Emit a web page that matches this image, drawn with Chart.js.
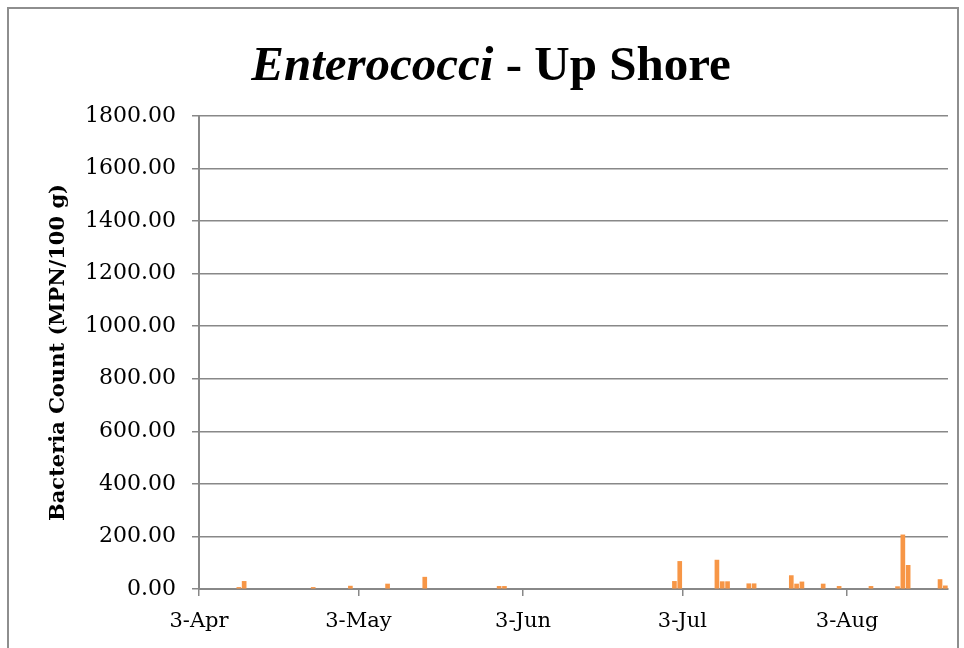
<!DOCTYPE html>
<html>
<head>
<meta charset="utf-8">
<script src="https://cdn.jsdelivr.net/npm/chart.js@4.4.1/dist/chart.umd.min.js"></script>
<style>
    html, body { margin: 0; padding: 0; background: #fff; overflow: hidden; }
    #marco { position: absolute; left: 7px; top: 7px; width: 948px; height: 700px; border: 2px solid #8e8e8e; }
    #grafico { position: absolute; left: 0; top: 0; }
</style>
</head>
<body>
<div id="marco"></div>
<canvas id="grafico" width="964" height="648"></canvas>
<script>
// Datos
const fechas = ['2013-04-10', '2013-04-11', '2013-04-24', '2013-05-01', '2013-05-08', '2013-05-15',
    '2013-05-29', '2013-05-30', '2013-07-01', '2013-07-02', '2013-07-09', '2013-07-10', '2013-07-11',
    '2013-07-15', '2013-07-16', '2013-07-23', '2013-07-24', '2013-07-25', '2013-07-29', '2013-08-01',
    '2013-08-07', '2013-08-12', '2013-08-13', '2013-08-14', '2013-08-20', '2013-08-21'];
const conteos = [6, 29, 6, 11, 19, 45,
    10, 10, 29, 105, 110, 28, 28,
    20, 20, 51, 19, 27, 19, 10,
    10, 9, 206, 90, 36, 12];

const fechaInicio = '2013-04-03';
const fechaFin = '2013-08-22';
const fechasEtiquetas = ['2013-04-03', '2013-05-03', '2013-06-03', '2013-07-03', '2013-08-03'];
const etiquetasX = ['3-Apr', '3-May', '3-Jun', '3-Jul', '3-Aug'];

function dias(fecha) {
    return (Date.parse(fecha) - Date.parse(fechaInicio)) / 86400000;
}

const gris = '#888888';
const naranja = '#f79646';

// Titulo con partes en cursiva y negrita
const tituloPlugin = {
    id: 'tituloMixto',
    afterDraw(chart) {
        const ctx = chart.ctx;
        const parte1 = 'Enterococci';
        const parte2 = ' - Up Shore';
        ctx.save();
        ctx.fillStyle = '#000';
        ctx.textBaseline = 'alphabetic';
        ctx.font = 'italic bold 49px "Liberation Serif"';
        const w1 = ctx.measureText(parte1).width;
        ctx.font = 'bold 49px "Liberation Serif"';
        const w2 = ctx.measureText(parte2).width;
        let x = 491 - (w1 + w2) / 2;
        ctx.font = 'italic bold 49px "Liberation Serif"';
        ctx.fillText(parte1, x, 80);
        ctx.font = 'bold 49px "Liberation Serif"';
        ctx.fillText(parte2, x + w1, 80);
        ctx.restore();
    }
};

const puntos = fechas.map((f, i) => ({ x: dias(f) + 0.5, y: conteos[i] }));

new Chart(document.getElementById('grafico'), {
    type: 'bar',
    data: {
        datasets: [{
            label: 'Enterococci',
            data: puntos,
            backgroundColor: naranja,
            borderWidth: 0,
            barThickness: 4
        }]
    },
    options: {
        responsive: false,
        animation: false,
        layout: { padding: { top: 116, right: 16, bottom: 0, left: 0 } },
        plugins: {
            legend: { display: false },
            title: { display: false },
            tooltip: { enabled: false }
        },
        scales: {
            x: {
                type: 'linear',
                offset: false,
                min: 0,
                max: dias(fechaFin),
                afterBuildTicks: (escala) => {
                    escala.ticks = fechasEtiquetas.map(f => ({ value: dias(f) }));
                },
                afterFit: (escala) => { escala.height = 59; },
                ticks: {
                    autoSkip: false,
                    maxRotation: 0,
                    padding: 13,
                    color: '#000',
                    font: { family: 'DejaVu Serif', size: 21 },
                    callback: (v) => etiquetasX[fechasEtiquetas.findIndex(f => dias(f) === v)]
                },
                grid: { offset: false, drawOnChartArea: false, tickLength: 7, color: gris, lineWidth: 1.5 },
                border: { color: gris, width: 2 }
            },
            y: {
                min: 0,
                max: 1800,
                afterFit: (escala) => { escala.width = 199; },
                ticks: {
                    stepSize: 200,
                    padding: 16,
                    color: '#000',
                    font: { family: 'DejaVu Serif', size: 22 },
                    callback: (v) => v.toFixed(2)
                },
                grid: { tickLength: 7, color: gris, lineWidth: 1.5 },
                border: { color: gris, width: 2 },
                title: {
                    display: true,
                    text: 'Bacteria Count (MPN/100 g)',
                    color: '#000',
                    font: { family: 'DejaVu Serif', size: 21, weight: 'bold' },
                    padding: { top: 46, bottom: 0 }
                }
            }
        }
    },
    plugins: [tituloPlugin]
});
</script>
</body>
</html>
